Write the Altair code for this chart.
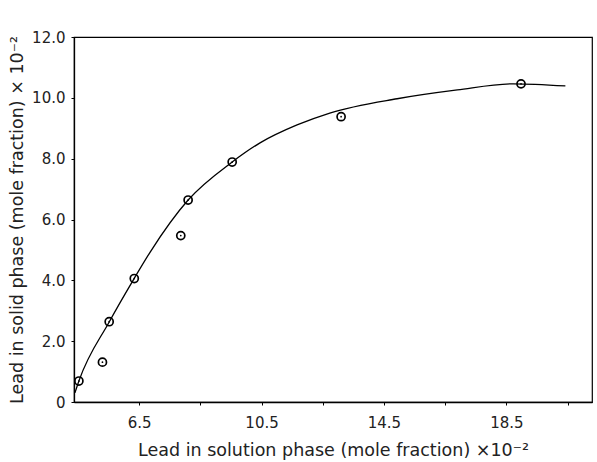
import altair as alt
import pandas as pd

# measured points (x: lead in solution phase, y: lead in solid phase), both x10^-2
pt_x = [4.53, 5.30, 5.52, 6.34, 7.86, 8.10, 9.54, 13.10, 18.98]
pt_y = [0.69, 1.31, 2.64, 4.06, 5.47, 6.64, 7.89, 9.38, 10.46]

# smooth fitted curve
cv_x = [4.40, 4.53, 5.52, 6.33, 6.86, 8.10, 9.54, 10.45, 11.66, 12.73, 14.93, 16.90, 18.73, 20.43]
cv_y = [0.30, 0.69, 2.63, 4.05, 4.93, 6.64, 7.89, 8.52, 9.11, 9.50, 9.97, 10.26, 10.46, 10.39]

x_ticks = [6.5, 8.5, 10.5, 12.5, 14.5, 16.5, 18.5, 20.5]
y_ticks = [0, 2, 4, 6, 8, 10, 12]

pts = pd.DataFrame({"x": pt_x, "y": pt_y})
cv = pd.DataFrame({"x": cv_x, "y": cv_y})

FONT = "DejaVu Sans"

xscale = alt.Scale(domain=[4.37, 21.3], nice=False, zero=False)
yscale = alt.Scale(domain=[0, 12], nice=False)

xaxis = alt.Axis(
    values=x_ticks,
    labelExpr="(datum.value - 6.5) % 4 == 0 ? format(datum.value, '.1f') : ''",
    title="Lead in solution phase (mole fraction)  ×10⁻²",
    titlePadding=11,
    labelPadding=10,
)
yaxis = alt.Axis(
    values=y_ticks,
    labelExpr="datum.value == 0 ? '0' : format(datum.value, '.1f')",
    title="Lead in solid phase (mole fraction) × 10⁻²",
    titlePadding=5,
    labelPadding=6,
)

line = alt.Chart(cv).mark_line(color="black", strokeWidth=1.3, interpolate="monotone").encode(
    x=alt.X("x:Q", scale=xscale, axis=xaxis),
    y=alt.Y("y:Q", scale=yscale, axis=yaxis),
)

circles = alt.Chart(pts).mark_point(
    shape="circle", filled=False, color="black", strokeWidth=1.7, size=65, opacity=1
).encode(x=alt.X("x:Q", scale=xscale), y=alt.Y("y:Q", scale=yscale))

dots = alt.Chart(pts).mark_point(
    shape="circle", filled=True, color="black", size=3, opacity=1
).encode(x=alt.X("x:Q", scale=xscale), y=alt.Y("y:Q", scale=yscale))

chart = alt.layer(line, circles, dots).properties(
    width=518,
    height=365,
    background="white",
    autosize=alt.AutoSizeParams(type="none"),
    padding={"left": 74, "top": 37, "right": 5, "bottom": 60},
).configure_view(
    stroke="black", strokeWidth=1.2
).configure_axis(
    grid=False,
    domainColor="black",
    domainWidth=1.3,
    tickColor="black",
    tickSize=3,
    labelFont=FONT,
    labelFontSize=15,
    labelColor="#222",
    titleFont=FONT,
    titleFontSize=17.5,
    titleFontWeight="normal",
    titleColor="#222",
)

chart.save("out.html", embed_options={"renderer": "svg", "actions": False})
